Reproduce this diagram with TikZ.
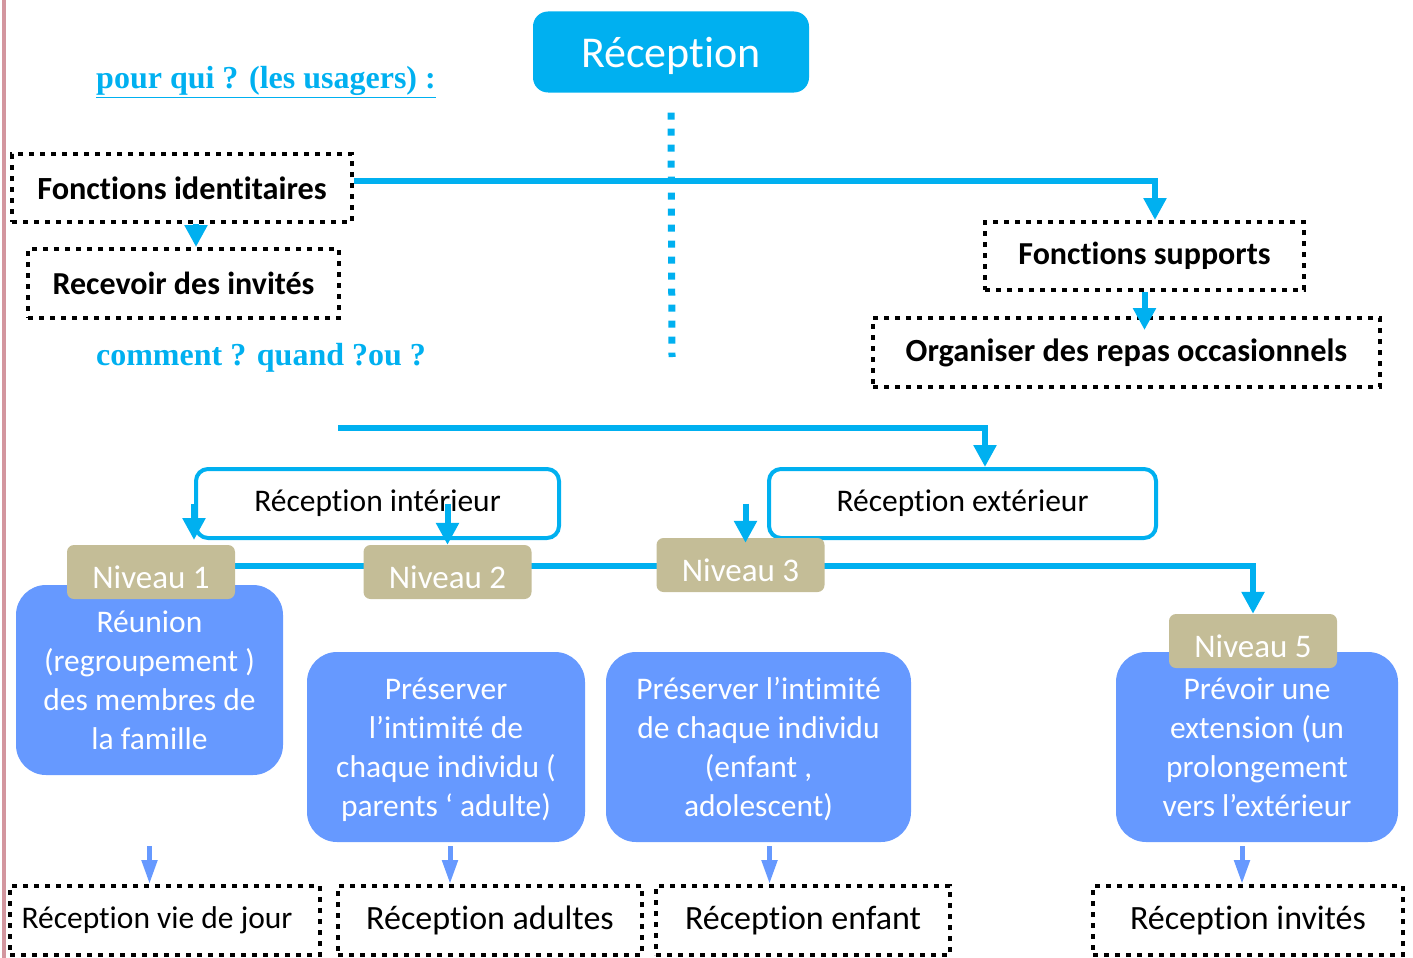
\documentclass[tikz,border=0pt]{standalone}
\usepackage{fontspec}
\setmainfont{Carlito}[Ligatures=NoCommon]
\newfontfamily\titrefont{Liberation Serif}
\usetikzlibrary{arrows.meta,backgrounds}

\definecolor{cyanline}{HTML}{00B0F0}
\definecolor{niveaufond}{HTML}{C4BD97}
\definecolor{bleufond}{HTML}{6699FF}
\definecolor{bordrose}{HTML}{D3969F}

\tikzset{
  pointille/.style={draw=black, line width=4pt, dash pattern=on 5pt off 6pt, inner sep=0pt, minimum height=68pt},
  cadre/.style={draw=cyanline, line width=4pt, rounded corners=12pt, fill=white, inner sep=0pt, minimum height=69pt, font=\fontsize{31.5}{36}\selectfont},
  niveau/.style={fill=niveaufond, rounded corners=7pt, text=white, minimum width=168pt, minimum height=54pt, inner sep=0pt, text height=33pt, text depth=0pt, font=\fontsize{33}{38}\selectfont},
  bulle/.style={fill=bleufond, rounded corners=30pt, text=white, minimum height=190pt, inner sep=0pt, align=center, font=\fontsize{31.5}{39}\selectfont},
  question/.style={text=cyanline, font=\titrefont\bfseries\fontsize{32}{36}\selectfont},
  fleche/.style={cyanline, line width=6pt, -{Triangle[width=22pt,length=22pt]}},
  bfleche/.style={bleufond, line width=5pt, -{Triangle[width=15pt,length=24pt]}},
}

\begin{document}
\begin{tikzpicture}[x=1pt,y=-1pt]
		\useasboundingbox (0,0) rectangle (1413,958);
		\draw[bordrose, line width=4pt] (4,0) -- (4,958);
		% haut
		\node[fill=cyanline, rounded corners=15pt, text=white, minimum width=276pt, minimum height=81pt, text height=36pt, text depth=6pt, font=\fontsize{44}{50}\selectfont] (rec) at (671,52) {Réception};
		\node[question] (pourqui) at (266,82) {\underline{pour qui ? (les usagers) :}};
		\node[question] (comment) at (261,358) {comment ? quand ?ou ?};
		\node[pointille, minimum width=340pt, font=\bfseries\fontsize{32.3}{36}\selectfont] (fi) at (182,188) {Fonctions identitaires};
		\node[pointille, minimum width=311pt, minimum height=69pt, font=\bfseries\fontsize{32}{36}\selectfont] (inv) at (183.5,283.5) {Recevoir des invités};
		\node[pointille, minimum width=319pt, font=\bfseries\fontsize{32}{36}\selectfont] (fs) at (1144.5,256) {Fonctions supports};
		\node[pointille, minimum width=507pt, minimum height=69pt, font=\bfseries\fontsize{32.3}{36}\selectfont] (org) at (1126.5,352.5) {Organiser des repas occasionnels};
		\coordinate (k1) at (1155,181);
		\coordinate (k2) at (672,357);
		\draw[cyanline, line width=7pt, dash pattern=on 7pt off 9pt] ([yshift=-20pt]rec.south) -- (k2);
		\draw[fleche] (fi.east |- k1) -- (k1) -- (k1 |- fs.north);
		\draw[fleche] ([xshift=14pt]fi.south) -- ([xshift=12.5pt]inv.north);
		\draw[fleche] (fs.south) -- ([yshift=-14pt]fs.south |- org.north);
		% niveaux
		\node[cadre, minimum width=363pt] (rint) at (377.5,503.5) {Réception intérieur};
		\node[cadre, minimum width=387pt] (rext) at (962.5,503.5) {Réception extérieur};
		\node[bulle, minimum width=267pt] (b1) at (149.5,680) {Réunion\\(regroupement )\\des membres de\\la famille};
		\node[bulle, minimum width=278pt, text depth=-8pt] (b2) at (446,747) {Préserver\\l’intimité de\\chaque individu (\\parents ‘ adulte)};
		\node[bulle, minimum width=305pt, text depth=-8pt] (b3) at (758.5,747) {Préserver l’intimité\\de chaque individu\\(enfant ,\\adolescent)};
		\node[bulle, minimum width=282pt, text depth=-8pt] (b4) at (1257,747) {Prévoir une\\extension (un\\prolongement\\vers l’extérieur};
		\node[niveau] (n1) at (151,572) {Niveau 1};
		\node[niveau] (n2) at (447.5,572) {Niveau 2};
		\node[niveau] (n3) at (740.5,565) {Niveau 3};
		\node[niveau] (n5) at (1253,641) {Niveau 5};
		\coordinate (k3) at (338,428);
		\coordinate (k4) at (985,428);
		\coordinate (k5) at (1253,566);
		\draw[fleche] (k3) -- (k4) -- (k4 |- rext.north);
		\begin{scope}[on background layer]
		\draw[fleche] (n1 |- k5) -- (k5) -- (n5.north);
		\end{scope}
		\draw[fleche] (rint.west) -- (rint.south west);
		\draw[fleche] (n2.north |- rint.center) -- (n2.north);
		\draw[fleche] ([xshift=5pt]n3.north |- rext.center) -- ([xshift=5pt,yshift=-5pt]n3.north);
		% bas
		\node[pointille, minimum width=310pt, minimum height=69pt, font=\fontsize{31.5}{36}\selectfont] (f1) at (165,920.5) {Réception vie de jour\hspace*{16pt}};
		\node[pointille, minimum width=304pt, minimum height=69pt, font=\fontsize{34}{38}\selectfont] (f2) at (490,920.5) {Réception adultes};
		\node[pointille, minimum width=294pt, minimum height=69pt, font=\fontsize{34}{38}\selectfont] (f3) at (803,920.5) {Réception enfant};
		\node[pointille, minimum width=310pt, minimum height=69pt, font=\fontsize{34}{38}\selectfont] (f4) at (1248,920.5) {Réception invités};
		\draw[bfleche] ([yshift=-4pt]b1.south |- b2.south) -- (b1.south |- f1.north);
		\draw[bfleche] ([xshift=4pt,yshift=-4pt]b2.south) -- ([xshift=4pt]b2.south |- f2.north);
		\draw[bfleche] ([xshift=11pt,yshift=-4pt]b3.south) -- ([xshift=11pt]b3.south |- f3.north);
		\draw[bfleche] ([xshift=-15pt,yshift=-4pt]b4.south) -- ([xshift=-15pt]b4.south |- f4.north);
\end{tikzpicture}
\end{document}
